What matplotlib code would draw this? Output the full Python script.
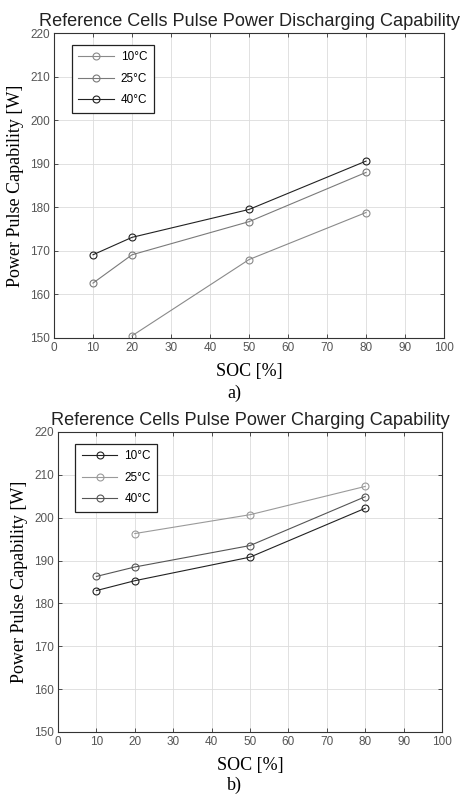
import matplotlib
matplotlib.use("Agg")
import matplotlib.pyplot as plt

# data
soc = [10, 20, 50, 80]
labels = ['10°C', '25°C', '40°C']

dis_10 = [None, 150.5, 168.0, 178.8]
dis_25 = [162.6, 169.1, 176.7, 188.0]
dis_40 = [169.1, 173.1, 179.5, 190.6]

chg_10 = [183.0, 185.3, 190.8, 202.2]
chg_25 = [None, 196.3, 200.7, 207.3]
chg_40 = [186.3, 188.5, 193.5, 204.9]

x_ticks = list(range(0, 101, 10))
y_ticks = list(range(150, 221, 10))

serif = ['Liberation Serif', 'DejaVu Serif']
sans = ['Liberation Sans', 'DejaVu Sans']

W, H = 469, 796


def clean(xs, ys):
    pts = [(x, y) for x, y in zip(xs, ys) if y is not None]
    return [p[0] for p in pts], [p[1] for p in pts]


def draw_panel(ax, series, colors, title, height_px):
    for ys, lab, col in zip(series, labels, colors):
        xs, yv = clean(soc, ys)
        ax.plot(xs, yv, marker='o', markersize=5, markerfacecolor='none',
                markeredgecolor=col, color=col, linewidth=0.8,
                markeredgewidth=0.8, label=lab)
    ax.set_xlim(0, 100)
    ax.set_ylim(150, 220)
    ax.set_xticks(x_ticks)
    ax.set_yticks(y_ticks)
    ax.grid(True, color='#dcdcdc', linewidth=0.6)
    ax.set_axisbelow(True)
    ax.tick_params(direction='in', top=True, right=True, length=3,
                   width=0.6, colors='#333333', labelcolor='#555555',
                   labelsize=8.5, pad=3)
    for lab in ax.get_xticklabels() + ax.get_yticklabels():
        lab.set_family(sans)
    for s in ax.spines.values():
        s.set_color('#333333')
        s.set_linewidth(0.8)
    ax.set_title(title, family=sans, fontsize=13.1, color='#222222', pad=5)
    ax.set_xlabel('SOC [%]', family=serif, fontsize=13, va='center')
    ax.xaxis.set_label_coords(0.5, -33.5 / height_px)
    ax.set_ylabel('Power Pulse Capability [W]', family=serif, fontsize=13,
                  labelpad=4)
    leg = ax.legend(loc='upper left', bbox_to_anchor=(0.03, 0.98),
                    prop={'family': sans, 'size': 8.5}, fancybox=False,
                    handlelength=3.0, borderpad=0.55, labelspacing=0.8,
                    handletextpad=0.6, framealpha=1)
    leg.get_frame().set_edgecolor('#222222')
    leg.get_frame().set_linewidth(0.9)


fig = plt.figure(figsize=(W / 100, H / 100), dpi=100)

ax1 = fig.add_axes([54 / W, 1 - 338 / H, 390 / W, 305 / H])
draw_panel(ax1, [dis_10, dis_25, dis_40], ['#8a8a8a', '#7a7a7a', '#222222'],
           'Reference Cells Pulse Power Discharging Capability', 305)

ax2 = fig.add_axes([58 / W, 1 - 732 / H, 384 / W, 300 / H])
draw_panel(ax2, [chg_10, chg_25, chg_40], ['#222222', '#9a9a9a', '#555555'],
           'Reference Cells Pulse Power Charging Capability', 300)

fig.text(0.5, 1 - 393 / H, 'a)', family=serif, fontsize=13,
         ha='center', va='center')
fig.text(0.5, 1 - 785 / H, 'b)', family=serif, fontsize=13,
         ha='center', va='center')

fig.savefig('out.png', dpi=100, facecolor='white')
